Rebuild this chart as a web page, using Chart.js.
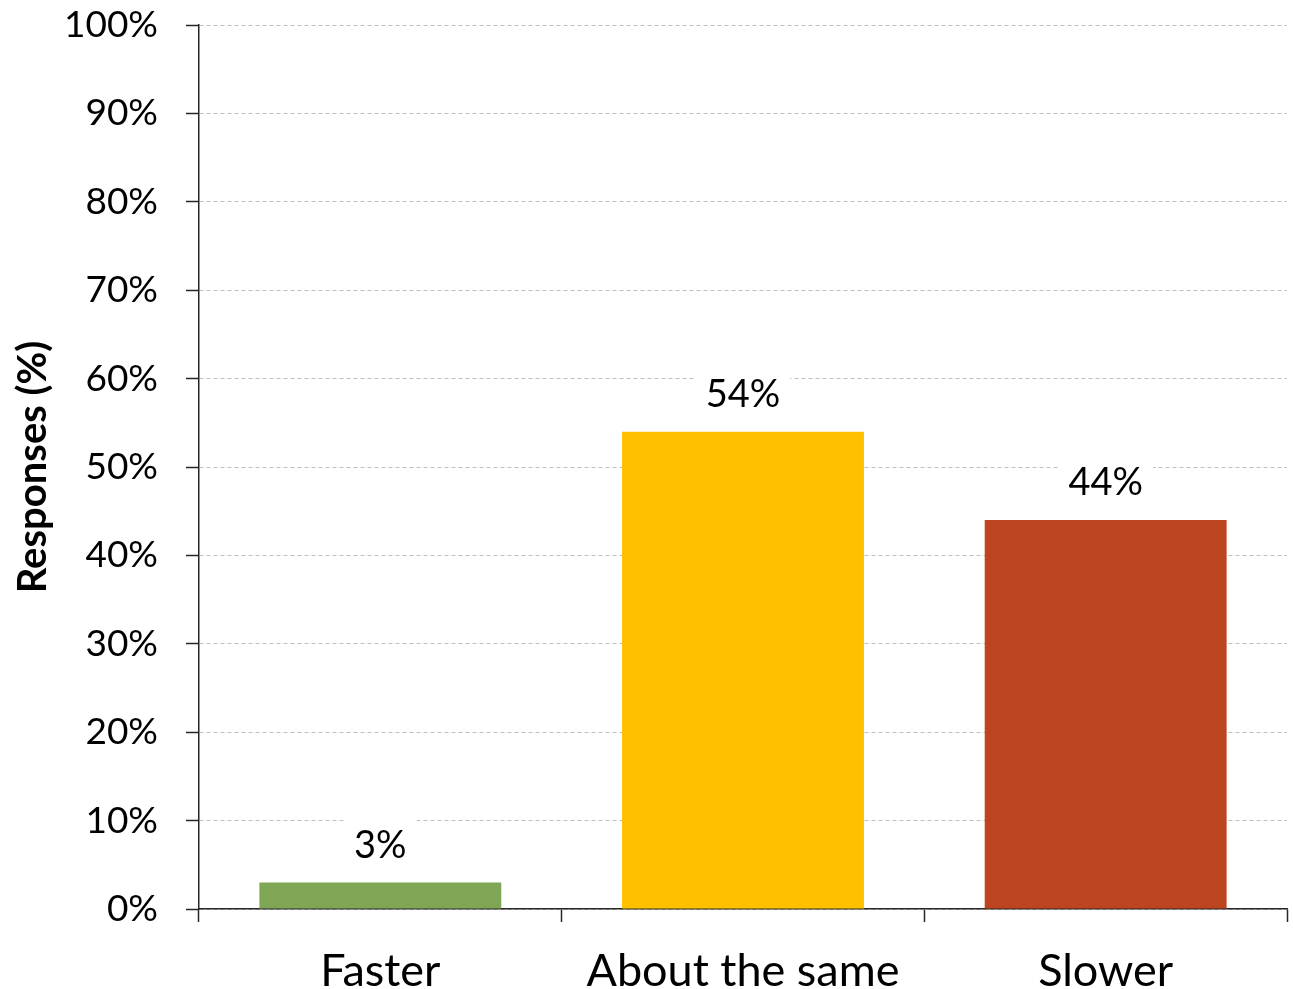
<!DOCTYPE html>
<html>
<head>
<meta charset="utf-8">
<script src="https://cdn.jsdelivr.net/npm/chart.js@4/dist/chart.umd.min.js"></script>
<style>
  html, body { margin: 0; padding: 0; background: #ffffff; }
  #wrap { width: 1293px; height: 989px; position: relative; }
</style>
</head>
<body>
<div id="wrap"><canvas id="chart" width="1293" height="989"></canvas></div>
<script>
// Survey answers and their share of responses (percent)
const categories = ['Faster', 'About the same', 'Slower'];
const responses = [3, 54, 44];
const barColors = ['#7FA655', '#FFC000', '#BC451F'];
const yTicks = [0, 10, 20, 30, 40, 50, 60, 70, 80, 90, 100];

const FONT = 'Lato, "Open Sans", "Liberation Sans", sans-serif';
const AXIS_COLOR = '#262626';

// Value labels above each bar, on a white box that breaks the grid line behind it
const valueLabels = {
  id: 'valueLabels',
  afterDatasetsDraw(chart) {
    const ctx = chart.ctx;
    const meta = chart.getDatasetMeta(0);
    ctx.save();
    ctx.font = '38px ' + FONT;
    ctx.textAlign = 'center';
    ctx.textBaseline = 'middle';
    meta.data.forEach((bar, i) => {
      const text = Math.round(responses[i]) + '%';
      const w = ctx.measureText(text).width + 20;
      const h = 64;
      const cy = bar.y - 37;
      ctx.fillStyle = '#ffffff';
      ctx.fillRect(bar.x - w / 2, cy - h / 2, w, h);
      ctx.fillStyle = '#000000';
      ctx.fillText(text, bar.x, cy);
    });
    ctx.restore();
  }
};

new Chart(document.getElementById('chart'), {
  type: 'bar',
  data: {
    labels: categories,
    datasets: [{
      data: responses,
      backgroundColor: barColors,
      borderWidth: 0,
      categoryPercentage: 1,
      barPercentage: 0.667
    }]
  },
  options: {
    responsive: false,
    animation: false,
    events: [],
    layout: { padding: { top: 0, right: 6, bottom: 0, left: 0 } },
    plugins: {
      legend: { display: false },
      tooltip: { enabled: false }
    },
    scales: {
      x: {
        grid: {
          display: true,
          offset: true,
          drawOnChartArea: false,
          drawTicks: true,
          tickLength: 13,
          tickColor: AXIS_COLOR,
          tickWidth: 1.5
        },
        border: { display: true, color: AXIS_COLOR, width: 1.5 },
        ticks: {
          color: '#000000',
          font: { family: FONT, size: 45 },
          padding: 22,
          maxRotation: 0,
          autoSkip: false
        },
        afterFit(scale) { scale.height = 80; }
      },
      y: {
        min: 0,
        max: 100,
        afterBuildTicks(scale) { scale.ticks = yTicks.map(v => ({ value: v })); },
        grid: {
          color: '#BFBFBF',
          lineWidth: 1,
          drawTicks: true,
          tickLength: 13,
          tickColor: AXIS_COLOR,
          tickWidth: 1.5,
          tickBorderDash: []
        },
        border: { display: true, color: AXIS_COLOR, width: 1.5, dash: [4, 3] },
        ticks: {
          color: '#000000',
          font: { family: FONT, size: 37 },
          padding: 28,
          callback: v => v + '%'
        },
        title: {
          display: true,
          text: 'Responses (%)',
          color: '#000000',
          font: { family: FONT, size: 40, weight: 'bold', lineHeight: 1.2 },
          padding: { top: 9, bottom: 0 }
        },
        afterFit(scale) {
          scale.width = 199;
          scale.paddingTop = 25;
          scale.paddingBottom = 0;
        }
      }
    }
  },
  plugins: [valueLabels]
});
</script>
</body>
</html>
